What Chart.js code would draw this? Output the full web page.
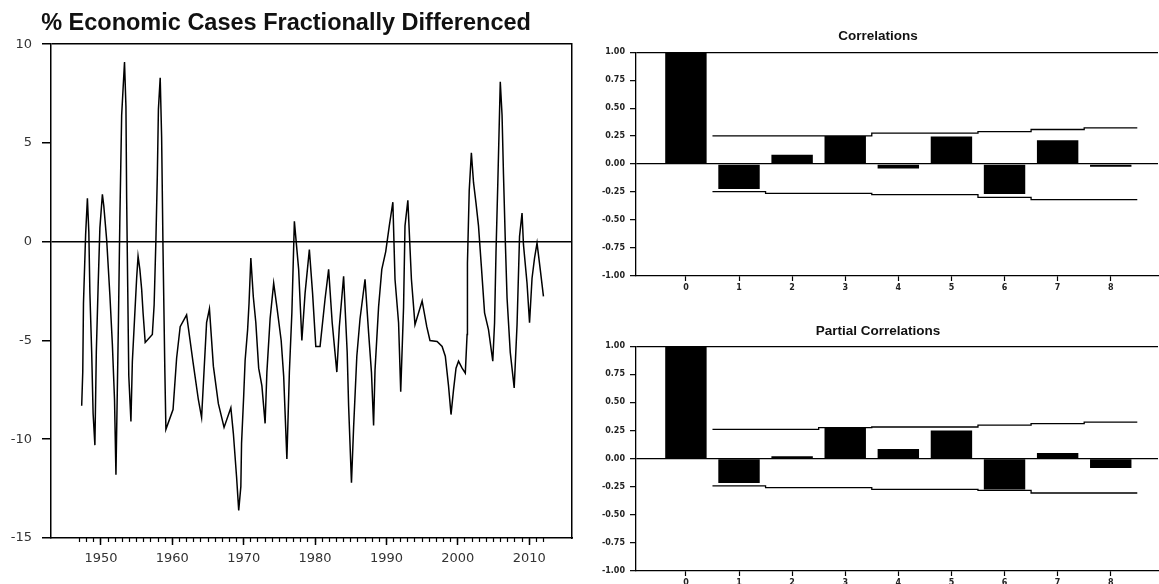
<!DOCTYPE html>
<html>
<head>
<meta charset="utf-8">
<script src="https://cdn.jsdelivr.net/npm/chart.js@4.4.1/dist/chart.umd.min.js"></script>
<style>
  html, body { margin: 0; padding: 0; background: #fff; overflow: hidden; width: 1159px; height: 584px; }
  .box { position: absolute; }
</style>
</head>
<body>
<div class="box" style="left:0;top:0;width:577px;height:584px"><canvas id="series"></canvas></div>
<div class="box" style="left:598px;top:0;width:568px;height:292px"><canvas id="acf"></canvas></div>
<div class="box" style="left:598px;top:292px;width:568px;height:292px"><canvas id="pacf"></canvas></div>
<script>
// left panel: fractionally differenced series (dates as decimal years)
const years = [
  1947.3, 1947.45, 1947.55, 1947.85, 1948.1, 1948.3, 1948.45, 1948.7, 1948.9, 1949.15,
  1949.35, 1949.6, 1949.85, 1950.2, 1950.4, 1950.8, 1951.25, 1951.6, 1951.9, 1952.1,
  1952.45, 1952.65, 1952.9, 1953.3, 1953.5, 1953.6, 1953.75, 1953.9, 1954.2, 1954.4,
  1954.7, 1955.0, 1955.2, 1955.45, 1955.7, 1955.9, 1956.2, 1957.2, 1957.45, 1957.7,
  1957.9, 1958.05, 1958.3, 1958.5, 1958.7, 1958.95, 1959.1, 1960.1, 1960.6, 1961.1,
  1962.0, 1962.9, 1963.65, 1964.1, 1964.8, 1965.2, 1965.75, 1966.45, 1967.25, 1968.2,
  1968.55, 1969.0, 1969.3, 1969.6, 1969.7, 1970.0, 1970.2, 1970.55, 1970.75, 1971.0,
  1971.35, 1971.7, 1972.1, 1972.55, 1973.0, 1973.25, 1973.7, 1974.2, 1974.65, 1975.25,
  1975.6, 1976.05, 1976.4, 1976.75, 1977.1, 1977.7, 1978.15, 1978.6, 1979.2, 1979.65,
  1980.1, 1980.7, 1981.4, 1981.9, 1982.4, 1983.05, 1983.4, 1984.0, 1984.5, 1984.7,
  1985.1, 1985.4, 1985.85, 1986.3, 1987.0, 1987.5, 1987.9, 1988.2, 1988.4, 1988.9,
  1989.35, 1989.9, 1990.4, 1990.9, 1991.2, 1991.7, 1992.0, 1992.4, 1992.6, 1993.0,
  1993.5, 1994.0, 1995.0, 1995.65, 1996.1, 1997.1, 1997.8, 1998.25, 1998.7, 1999.05,
  1999.4, 1999.75, 2000.1, 2000.6, 2001.05, 2001.3, 2001.35, 2001.6, 2001.9, 2002.2,
  2002.55, 2002.9, 2003.3, 2003.75, 2004.3, 2004.9, 2005.15, 2005.35, 2005.6, 2005.95,
  2006.2, 2006.4, 2006.65, 2006.9, 2007.35, 2007.9, 2008.3, 2008.65, 2009.0, 2009.2,
  2009.7, 2010.05, 2010.4, 2010.75, 2011.1, 2011.55, 2012.0
];
const values = [
  -8.3, -6.6, -3.1, 0.35, 2.2, 0.5, -2.6, -5.6, -8.7, -10.3,
  -5.6, -2.3, 0.7, 2.4, 1.8, 0.1, -2.7, -5.2, -8.0, -11.8,
  -4.0, 1.2, 6.4, 9.1, 6.85, 2.2, -2.3, -6.8, -9.1, -6.05,
  -3.95, -1.85, -0.74, -1.4, -2.4, -3.6, -5.1, -4.7, -3.2, 0.1,
  3.4, 6.7, 8.3, 5.3, -0.5, -6.5, -9.5, -8.5, -5.9, -4.3,
  -3.7, -6.1, -8.0, -8.9, -4.1, -3.4, -6.3, -8.2, -9.4, -8.4,
  -9.7, -11.9, -13.6, -12.4, -10.2, -7.8, -6.0, -4.45, -3.1, -0.83,
  -2.8, -4.1, -6.4, -7.3, -9.2, -6.6, -3.9, -2.1, -3.3, -5.0,
  -6.8, -11.0, -6.6, -3.6, 1.03, -1.4, -5.0, -2.6, -0.4, -2.6,
  -5.3, -5.3, -2.9, -1.4, -4.1, -6.6, -4.3, -1.75, -5.6, -8.3,
  -12.2, -9.4, -5.8, -3.9, -1.9, -4.6, -6.6, -9.3, -6.5, -3.3,
  -1.4, -0.5, 0.8, 2.0, -1.9, -4.1, -7.6, -3.3, 0.8, 2.1,
  -1.9, -4.2, -3.0, -4.3, -5.0, -5.05, -5.3, -5.8, -7.3, -8.75,
  -7.5, -6.4, -6.05, -6.4, -6.65, -4.7, -1.1, 2.6, 4.5, 3.0,
  1.95, 0.8, -1.25, -3.6, -4.45, -6.05, -4.1, -0.57, 2.9, 8.1,
  6.4, 3.4, 0.1, -2.85, -5.6, -7.4, -4.2, 0.27, 1.45, -0.15,
  -2.1, -4.1, -1.85, -0.83, -0.07, -1.4, -2.77
];
const seriesYTicks = [-15, -10, -5, 0, 5, 10];
const decadeTicks = [1950, 1960, 1970, 1980, 1990, 2000, 2010];
const firstYear = 1947;
const lastYear = 2012;

// right panels: correlogram
const lags = [0, 1, 2, 3, 4, 5, 6, 7, 8];
const acfValues = [1.0, -0.223, 0.083, 0.252, -0.039, 0.246, -0.267, 0.214, -0.024];
const pacfValues = [1.0, -0.217, 0.02, 0.276, 0.086, 0.249, -0.276, 0.05, -0.083];
const bandLags = [1, 2, 3, 4, 5, 6, 7, 8];
const acfUpper = [0.252, 0.252, 0.252, 0.276, 0.276, 0.291, 0.309, 0.324];
const acfLower = [-0.246, -0.261, -0.261, -0.273, -0.273, -0.297, -0.318, -0.318];
const pacfUpper = [0.26, 0.26, 0.276, 0.281, 0.281, 0.297, 0.312, 0.324];
const pacfLower = [-0.243, -0.258, -0.258, -0.273, -0.273, -0.282, -0.306, -0.306];
const corrTicks = [-1, -0.75, -0.5, -0.25, 0, 0.25, 0.5, 0.75, 1];

const minorYears = [];
for (let y = firstYear; y <= lastYear; y++) minorYears.push(y);

const toTicks = arr => arr.map(v => ({ value: v }));
const frameColor = c => (c.tick && (c.tick.value === 0 || c.tick.value === 10 || c.tick.value === 1)) ? '#000' : 'rgba(0,0,0,0)';

// left chart
new Chart(document.getElementById('series'), {
  type: 'line',
  data: {
    datasets: [{
      data: years.map((t, i) => ({ x: t, y: values[i] })),
      borderColor: '#000',
      borderWidth: 1.5,
      pointRadius: 0,
      tension: 0,
      fill: false
    }]
  },
  options: {
    responsive: true,
    maintainAspectRatio: false,
    animation: false,
    layout: { padding: { left: 0, right: 5, top: 0, bottom: 0 } },
    plugins: {
      legend: { display: false },
      tooltip: { enabled: false },
      title: {
        display: true,
        text: '% Economic Cases Fractionally Differenced',
        color: '#111',
        font: { family: '"Liberation Sans", Arial, sans-serif', size: 23.5, weight: 'bold' },
        padding: { top: 9, bottom: 7 }
      }
    },
    scales: {
      xMinor: {
        type: 'linear', min: 1943, max: 2016, position: 'bottom', weight: 0,
        afterBuildTicks: s => { s.ticks = toTicks(minorYears); },
        afterFit: s => { s.height = 0; },
        ticks: { display: false },
        grid: { drawOnChartArea: false, tickLength: 4, tickColor: '#000', tickWidth: 1.2 },
        border: { display: false }
      },
      x: {
        type: 'linear', min: 1943, max: 2016, position: 'bottom', weight: 10,
        afterBuildTicks: s => { s.ticks = toTicks(decadeTicks); },
        afterFit: s => { s.height = 46; },
        ticks: { color: '#333', font: { family: '"DejaVu Sans", sans-serif', size: 13 }, padding: 6, maxRotation: 0, autoSkip: false, callback: v => String(v) },
        grid: { drawOnChartArea: false, tickLength: 7, tickColor: '#000', tickWidth: 1.5 },
        border: { display: true, color: '#000', width: 1.5 }
      },
      y: {
        min: -15, max: 10,
        afterBuildTicks: s => { s.ticks = toTicks(seriesYTicks); },
        afterFit: s => { s.width = 51; },
        ticks: { color: '#333', font: { family: '"DejaVu Sans", sans-serif', size: 13 }, padding: 10 },
        grid: { drawOnChartArea: true, color: frameColor, lineWidth: 1.5, tickLength: 9, tickColor: '#000', tickWidth: 1.5 },
        border: { display: true, color: '#000', width: 1.5 }
      },
      yRight: {
        position: 'right', min: -15, max: 10,
        afterFit: s => { s.width = 0; },
        ticks: { display: false },
        grid: { drawOnChartArea: false, drawTicks: false },
        border: { display: true, color: '#000', width: 1.5 }
      }
    }
  }
});

// correlogram panels
function bandPoints(bounds) {
  const pts = bandLags.map((k, i) => ({ x: k - 0.5, y: bounds[i] }));
  pts.push({ x: bandLags[bandLags.length - 1] + 0.5, y: bounds[bounds.length - 1] });
  return pts;
}

function correlogram(id, titleText, bars, upper, lower, titlePad, axisHeight) {
  const bandStyle = { type: 'line', stepped: 'before', borderColor: '#000', borderWidth: 1.3, pointRadius: 0, fill: false };
  return new Chart(document.getElementById(id), {
    type: 'bar',
    data: {
      datasets: [
        { data: lags.map((k, i) => ({ x: k, y: bars[i] })), backgroundColor: '#000', borderWidth: 0, barPercentage: 0.78, categoryPercentage: 1 },
        Object.assign({ data: bandPoints(upper) }, bandStyle),
        Object.assign({ data: bandPoints(lower) }, bandStyle)
      ]
    },
    options: {
      responsive: true,
      maintainAspectRatio: false,
      animation: false,
      layout: { padding: { left: 0, right: 8, top: 0, bottom: 0 } },
      plugins: {
        legend: { display: false },
        tooltip: { enabled: false },
        title: {
          display: true,
          text: titleText,
          color: '#111',
          font: { family: '"Liberation Sans", Arial, sans-serif', size: 13.5, weight: 'bold' },
          padding: titlePad
        }
      },
      scales: {
        x: {
          type: 'linear', min: -0.94, max: 8.89, offset: false,
          afterBuildTicks: s => { s.ticks = toTicks(lags); },
          afterFit: s => { s.height = axisHeight; },
          ticks: { color: '#222', font: { family: '"DejaVu Sans", sans-serif', size: 8, weight: 'bold' }, padding: 2, maxRotation: 0, autoSkip: false },
          grid: { offset: false, drawOnChartArea: false, tickLength: 5, tickColor: '#000', tickWidth: 1.2 },
          border: { display: true, color: '#000', width: 1.3 }
        },
        y: {
          min: -1, max: 1,
          afterBuildTicks: s => { s.ticks = toTicks(corrTicks); },
          afterFit: s => { s.width = 38; },
          ticks: { color: '#222', font: { family: '"DejaVu Sans", sans-serif', size: 8, weight: 'bold' }, padding: 5, callback: v => Number(v).toFixed(2) },
          grid: { drawOnChartArea: true, color: frameColor, lineWidth: 1.3, tickLength: 6, tickColor: '#000', tickWidth: 1.2 },
          border: { display: true, color: '#000', width: 1.3 }
        }
      }
    }
  });
}

correlogram('acf', 'Correlations', acfValues, acfUpper, acfLower, { top: 28, bottom: 8 }, 16);
correlogram('pacf', 'Partial Correlations', pacfValues, pacfUpper, pacfLower, { top: 31, bottom: 7 }, 13);
</script>
</body>
</html>
